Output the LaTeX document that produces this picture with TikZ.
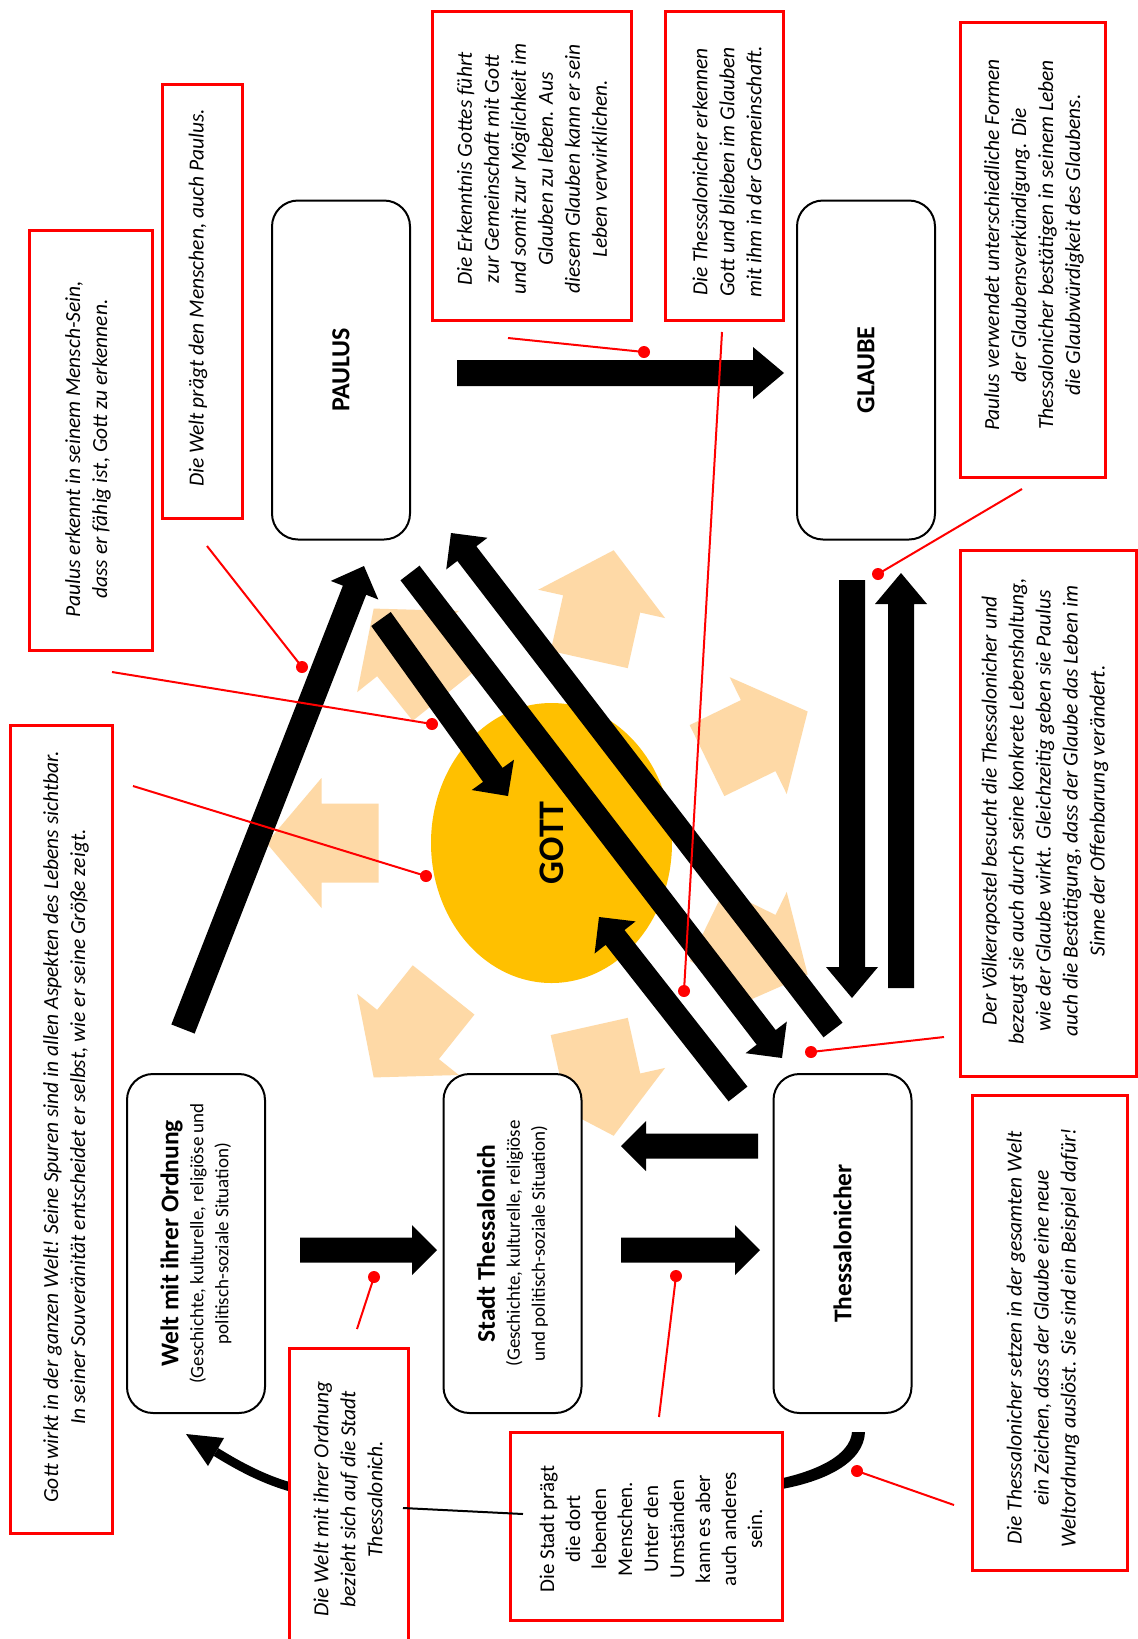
\documentclass[tikz,border=0pt]{standalone}
\usepackage{fontspec}
\setmainfont{Carlito}
\usetikzlibrary{calc,shapes.geometric}
\definecolor{gottgold}{RGB}{255,192,0}
\definecolor{raylight}{RGB}{254,217,166}
\definecolor{calloutred}{RGB}{255,0,0}
\newcommand\bxttl{\fontsize{25.5}{27}\selectfont\bfseries}
% block arrow: style, tail, tip, shaft half width, head half width, head length
\newcommand\blockarrow[6]{%
  \coordinate (ban) at ($(#3)!#6!(#2)$);
  \fill[#1] ($(#2)!#4!90:(#3)$) -- ($(ban)!#4!90:(#3)$) -- ($(ban)!#5!90:(#3)$) -- (#3)
    -- ($(ban)!#5!-90:(#3)$) -- ($(ban)!#4!-90:(#3)$) -- ($(#2)!#4!-90:(#3)$) -- cycle;}
\begin{document}
\begin{tikzpicture}[x=1pt,y=-1pt,
  rbox/.style={draw, line width=2pt, rounded corners=26pt, fill=white, rotate=90,
    minimum width=339pt, minimum height=138pt, inner sep=0pt, align=center,
    font=\fontsize{19}{25}\selectfont},
  callout/.style={draw=calloutred, line width=3pt, fill=white, inner sep=0pt},
  note/.style={rotate=90, align=center, inner sep=0pt,
    font=\fontsize{21.5}{27}\selectfont\itshape},
  plainnote/.style={rotate=90, align=center, inner sep=0pt,
    font=\fontsize{21}{26}\selectfont},
  pointer/.style={draw=calloutred, line width=2pt},
  reddot/.style={circle, fill=calloutred, minimum size=12pt, inner sep=0pt},
]
\useasboundingbox (0,0) rectangle (1138,1639);
\fill[white] (0,0) rectangle (1138,1639);

% rays around GOTT, tails on an ellipse
\coordinate (gc) at (551.5,843);
\foreach \a in {180,128.6,77.4,26,-26,-77.4,-128.6}{
  \coordinate (rtail) at ($(gc)+({173*cos(\a)},{188*sin(\a)})$);
  \coordinate (rtip) at ($(rtail)+(\a:112)$);
  \blockarrow{raylight}{rtail}{rtip}{39.5pt}{65pt}{55pt}
}

% GOTT
\node[ellipse, fill=gottgold, rotate=90, minimum width=280pt, minimum height=241pt,
  inner sep=0pt, font=\fontsize{36}{38}\selectfont\bfseries] (gott) at (gc) {GOTT};

% black block arrows
\coordinate (pg1) at (457,373);  \coordinate (pg2) at (784,373);
\coordinate (gt1) at (852,580);  \coordinate (gt2) at (852,998);
\coordinate (tg1) at (901,988);  \coordinate (tg2) at (901,573);
\coordinate (ws1) at (300,1250); \coordinate (ws2) at (437,1250);
\coordinate (st1) at (621,1250); \coordinate (st2) at (760,1250);
\coordinate (ts1) at (758,1146); \coordinate (ts2) at (621,1146);
\coordinate (wp1) at (183,1029); \coordinate (wp2) at (364,566);
\coordinate (pt1) at (410,573);  \coordinate (pt2) at (782,1058);
\coordinate (tp1) at (833,1030); \coordinate (tp2) at (451,533);
\coordinate (pgo1) at (381,619); \coordinate (pgo2) at (508,796);
\coordinate (tgo1) at (738,1094);\coordinate (tgo2) at (599,917);
\blockarrow{black}{pg1}{pg2}{13pt}{26pt}{31pt}
\blockarrow{black}{gt1}{gt2}{13pt}{26pt}{31pt}
\blockarrow{black}{tg1}{tg2}{13pt}{26pt}{31pt}
\blockarrow{black}{ws1}{ws2}{12.5pt}{25pt}{25pt}
\blockarrow{black}{st1}{st2}{12.5pt}{25pt}{25pt}
\blockarrow{black}{ts1}{ts2}{12.5pt}{25pt}{25pt}
\blockarrow{black}{wp1}{wp2}{12.5pt}{25.5pt}{26pt}
\blockarrow{black}{pt1}{pt2}{12pt}{26pt}{26pt}
\blockarrow{black}{tp1}{tp2}{12pt}{26pt}{26pt}
\blockarrow{black}{pgo1}{pgo2}{12pt}{26pt}{26pt}
\blockarrow{black}{tgo1}{tgo2}{12pt}{26pt}{26pt}

% curved connectors at the bottom
\draw[line width=9pt] (298,1489) .. controls (270,1482) and (245,1470) .. (216,1452);
\coordinate (lh1) at (224,1438); \coordinate (lh2) at (186,1434); \coordinate (lh3) at (208,1466);
\fill (lh1) -- (lh2) -- (lh3) -- cycle;
\fill (852,1432) -- (865,1432) .. controls (864,1462) and (826,1482) .. (776,1490)
  -- (774,1480) .. controls (818,1471) and (850,1455) .. (852,1432) -- cycle;

% main boxes
\node[rbox] (paulus) at (341,370) {\fontsize{26}{28}\selectfont\bfseries PAULUS};
\node[rbox] (glaube) at (866,370) {\fontsize{26}{28}\selectfont\bfseries GLAUBE};
\node[rbox] (welt) at (196,1243.5) {{\bxttl Welt mit ihrer Ordnung}\\(Geschichte, kulturelle, religiöse und\\politisch-soziale Situation)};
\node[rbox] (stadt) at (512.5,1243.5) {{\bxttl Stadt Thessalonich}\\(Geschichte, kulturelle, religiöse\\und politisch-soziale Situation)};
\node[rbox] (thess) at (842.5,1243.5) {{\bxttl Thessalonicher}};

% callout boxes
\node[callout, minimum width=102pt, minimum height=808pt] (c1) at (61,1129) {};
\node[note] (t1) at (66,1127) {Gott wirkt in der ganzen Welt! Seine Spuren sind in allen Aspekten des Lebens sichtbar.\\In seiner Souveränität entscheidet er selbst,  wie er seine Größe zeigt.};
\node[callout, minimum width=123pt, minimum height=420pt] (c2) at (90.5,440) {};
\node[note] (t2) at (88,449) {Paulus erkennt in seinem Mensch-Sein,\\dass er fähig ist,  Gott zu erkennen.};
\node[callout, minimum width=80pt, minimum height=434pt] (c3) at (202,301) {};
\node[note] (t3) at (198,298) {Die Welt prägt den Menschen, auch Paulus.};
\node[callout, minimum width=199pt, minimum height=309pt] (c4) at (531.5,165.5) {};
\node[note] (t4) at (532,169) {Die Erkenntnis Gottes führt\\zur Gemeinschaft mit Gott\\und somit zur Möglichkeit im\\Glauben zu leben. Aus\\diesem Glauben kann er sein\\Leben verwirklichen.};
\node[callout, minimum width=118pt, minimum height=309pt] (c5) at (724,165.5) {};
\node[note] (t5) at (727,172) {Die Thessalonicher erkennen\\Gott und blieben im Glauben\\mit ihm in der Gemeinschaft.};
\node[callout, minimum width=145pt, minimum height=455pt] (c6) at (1032.5,249.5) {};
\node[note] (t6) at (1034,245) {Paulus verwendet unterschiedliche Formen\\der Glaubensverkündigung. Die\\Thessalonicher bestätigen in seinem Leben\\die Glaubwürdigkeit des Glaubens.};
\node[callout, minimum width=176pt, minimum height=526pt] (c7) at (1048,813) {};
\node[note] (t7) at (1045,811) {Der Völkerapostel besucht die Thessalonicher und\\bezeugt sie auch durch seine konkrete Lebenshaltung,\\wie der Glaube wirkt.  Gleichzeitig geben sie Paulus\\auch die Bestätigung, dass der Glaube das Leben im\\Sinne der Offenbarung verändert.};
\node[callout, minimum width=155pt, minimum height=475pt] (c8) at (1049.5,1332.5) {};
\node[note] (t8) at (1043,1338) {Die Thessalonicher setzen in der gesamten Welt\\ein Zeichen, dass der Glaube eine neue\\Weltordnung auslöst.  Sie sind ein Beispiel dafür!};
\node[callout, minimum width=119pt, minimum height=312pt] (c9) at (348.5,1504) {};
\node[note] (t9) at (348,1499) {Die Welt mit ihrer Ordnung\\bezieht sich auf die Stadt\\Thessalonich.};
\node[callout, minimum width=272pt, minimum height=188pt] (c10) at (646,1526) {};
\node[plainnote] (t10) at (651,1529) {Die Stadt prägt\\die dort\\lebenden\\Menschen.\\Unter den\\Umständen\\kann es aber\\auch anderes\\sein.};

% thin link between the two lower callouts
\draw[line width=2pt] (403,1508) -- (523,1514);

% red pointers
\node[reddot] (d1) at (432,724) {};
\node[reddot] (d2) at (302,667) {};
\node[reddot] (d3) at (426,876) {};
\node[reddot] (d4) at (644,352) {};
\node[reddot] (d5) at (684,991) {};
\node[reddot] (d6) at (878,574) {};
\node[reddot] (d7) at (811,1052) {};
\node[reddot] (d8) at (857,1471) {};
\node[reddot] (d9) at (374,1277) {};
\node[reddot] (d10) at (676,1276) {};
\coordinate (e1) at (112,672);   \draw[pointer] (e1) -- (d1.center);
\coordinate (e2) at (207,546);   \draw[pointer] (e2) -- (d2.center);
\coordinate (e3) at (133,786);   \draw[pointer] (e3) -- (d3.center);
\coordinate (e4) at (508,338);   \draw[pointer] (e4) -- (d4.center);
\coordinate (e5) at (722,332);   \draw[pointer] (e5) -- (d5.center);
\coordinate (e6) at (1022,489);  \draw[pointer] (e6) -- (d6.center);
\coordinate (e7) at (944,1037);  \draw[pointer] (e7) -- (d7.center);
\coordinate (e8) at (954,1505);  \draw[pointer] (e8) -- (d8.center);
\coordinate (e9) at (357,1329);  \draw[pointer] (e9) -- (d9.center);
\coordinate (e10) at (659,1417); \draw[pointer] (e10) -- (d10.center);
\end{tikzpicture}
\end{document}
